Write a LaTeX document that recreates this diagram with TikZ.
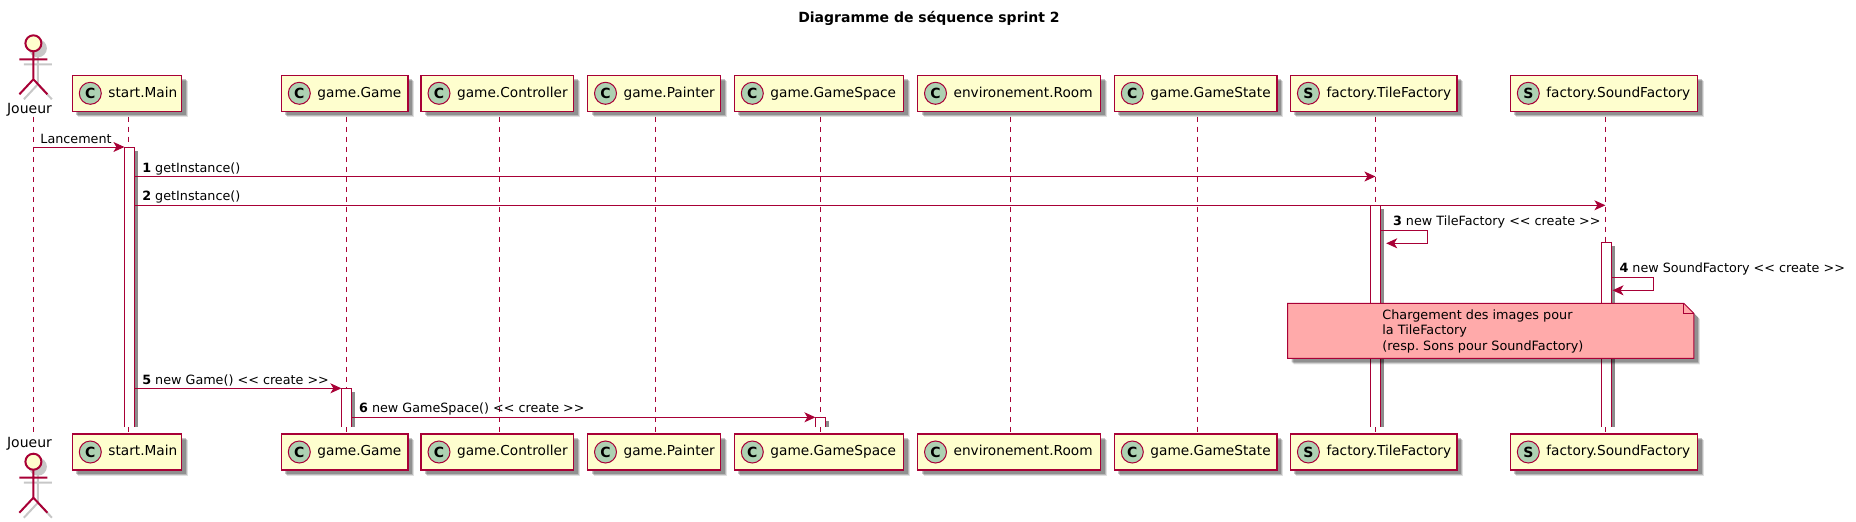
\documentclass[tikz,border=0pt]{standalone}
\usepackage{fontspec}
\setmainfont{DejaVu Sans}
\usetikzlibrary{positioning,arrows.meta,shadows}

\definecolor{umlline}{HTML}{A80036}
\definecolor{umlbox}{HTML}{FEFECE}
\definecolor{umlspot}{HTML}{ADD1B2}
\definecolor{umlnote}{HTML}{FFAAAA}

\begin{document}
\begin{tikzpicture}[
    x=1pt, y=-1pt,
    softshadow/.style={
        drop shadow={shadow xshift=6pt, shadow yshift=-6pt, fill=black, opacity=.12},
        drop shadow={shadow xshift=5pt, shadow yshift=-5pt, fill=black, opacity=.18},
        drop shadow={shadow xshift=4pt, shadow yshift=-4pt, fill=black, opacity=.22}
    },
    classbox/.style={
        draw=umlline,
        line width=1.5pt,
        fill=umlbox,
        softshadow,
        outer sep=0pt,
        inner xsep=7.5pt,
        inner ysep=0pt,
        minimum height=36pt,
        text width=#1,
        text height=10.5pt,
        text depth=3pt,
        font=\fontsize{13.7}{16}\selectfont,
        execute at begin node=\hspace{28.6pt}\hbox to 0pt\bgroup,
        execute at end node=\hss\egroup
    },
    spot/.style={
        circle,
        draw=umlline,
        line width=1pt,
        fill=umlspot,
        minimum size=22pt,
        inner sep=0pt,
        font=\fontsize{14}{16}\selectfont\bfseries
    },
    lifeline/.style={umlline, line width=1pt, dash pattern=on 5pt off 5pt},
    barbox/.style={fill=white, minimum width=10.2pt, inner sep=0pt, outer sep=0pt},
    msg/.style={umlline, line width=1pt, -{Stealth[length=11pt, width=10pt, inset=3pt]}},
    msglabel/.style={anchor=base west, inner sep=0pt, text=black, font=\fontsize{12.75}{15}\selectfont},
    actorlabel/.style={anchor=base, inner sep=0pt, font=\fontsize{14}{16}\selectfont},
    actor/.pic={
        \draw[black!22, line width=2pt, shift={(4.5,5)}]
            (-14,16) -- (14,16) (0,8) -- (0,36) (-14,51) -- (0,36) -- (14,51);
        \fill[black!22] (4.5,5) circle[radius=9];
        \draw[umlline, line width=2pt, fill=umlbox] (0,0) circle[radius=8];
        \draw[umlline, line width=2pt]
            (-14,16) -- (14,16) (0,8) -- (0,36) (-14,51) -- (0,36) -- (14,51);
    }
]

\useasboundingbox (0,0) rectangle (1856,522);

\node[anchor=base, inner sep=0pt, font=\fontsize{14}{16}\selectfont\bfseries] (title) at (929,22.7)
    {Diagramme de séquence sprint 2};

% participants, top row
\node[actorlabel] (joueur) at (29.5,113.3) {Joueur};
\node[classbox=94.4pt, anchor=north west] (main) at (72.3,75.3) {start.Main};
\node[classbox=111.7pt, right=99.6pt of main] (game) {game.Game};
\node[classbox=137.6pt, right=13pt of game] (controller) {game.Controller};
\node[classbox=118.2pt, right=13.9pt of controller] (painter) {game.Painter};
\node[classbox=154.3pt, right=13.6pt of painter] (gamespace) {game.GameSpace};
\node[classbox=168.2pt, right=13.9pt of gamespace] (room) {environement.Room};
\node[classbox=147.5pt, right=13.6pt of room] (gamestate) {game.GameState};
\node[classbox=151.4pt, right=13.6pt of gamestate] (tile) {factory.TileFactory};
\node[classbox=172.2pt, right=53.5pt of tile] (sound) {factory.SoundFactory};

% participants, bottom row
\node[actorlabel] (joueurb) at (29.5,447.7) {Joueur};
\node[classbox=94.4pt, below=322.7pt of main] (mainb) {start.Main};
\node[classbox=111.7pt, below=322.7pt of game] (gameb) {game.Game};
\node[classbox=137.6pt, below=322.7pt of controller] (controllerb) {game.Controller};
\node[classbox=118.2pt, below=322.7pt of painter] (painterb) {game.Painter};
\node[classbox=154.3pt, below=322.7pt of gamespace] (gamespaceb) {game.GameSpace};
\node[classbox=168.2pt, below=322.7pt of room] (roomb) {environement.Room};
\node[classbox=147.5pt, below=322.7pt of gamestate] (gamestateb) {game.GameState};
\node[classbox=151.4pt, below=322.7pt of tile] (tileb) {factory.TileFactory};
\node[classbox=172.2pt, below=322.7pt of sound] (soundb) {factory.SoundFactory};

\pic at (33.4,43.3) {actor};
\pic at (33.4,461.7) {actor};

% class spots
\node[spot] (mainC) at ([xshift=18pt]main.west) {C};
\node[spot] (gameC) at ([xshift=18pt]game.west) {C};
\node[spot] (controllerC) at ([xshift=18pt]controller.west) {C};
\node[spot] (painterC) at ([xshift=18pt]painter.west) {C};
\node[spot] (gamespaceC) at ([xshift=18pt]gamespace.west) {C};
\node[spot] (roomC) at ([xshift=18pt]room.west) {C};
\node[spot] (gamestateC) at ([xshift=18pt]gamestate.west) {C};
\node[spot] (tileS) at ([xshift=18pt]tile.west) {S};
\node[spot] (soundS) at ([xshift=18pt]sound.west) {S};
\node[spot] (mainbC) at ([xshift=18pt]mainb.west) {C};
\node[spot] (gamebC) at ([xshift=18pt]gameb.west) {C};
\node[spot] (controllerbC) at ([xshift=18pt]controllerb.west) {C};
\node[spot] (painterbC) at ([xshift=18pt]painterb.west) {C};
\node[spot] (gamespacebC) at ([xshift=18pt]gamespaceb.west) {C};
\node[spot] (roombC) at ([xshift=18pt]roomb.west) {C};
\node[spot] (gamestatebC) at ([xshift=18pt]gamestateb.west) {C};
\node[spot] (tilebS) at ([xshift=18pt]tileb.west) {S};
\node[spot] (soundbS) at ([xshift=18pt]soundb.west) {S};

% lifelines
\coordinate (ljoueur) at (33.4,116.7);
\coordinate (lmain) at (128.3,116.7);
\coordinate (lgame) at (346.3,116.7);
\coordinate (lcontroller) at (499.3,116.7);
\coordinate (lpainter) at (655.4,116.7);
\coordinate (lgamespace) at (820.4,116.7);
\coordinate (lroom) at (1010.4,116.7);
\coordinate (lgamestate) at (1197.5,116.7);
\coordinate (ltile) at (1375.4,116.7);
\coordinate (lsound) at (1605.4,116.7);
\coordinate (lend) at (0,431.7);

\draw[lifeline] (ljoueur) -- (ljoueur |- lend);
\draw[lifeline] (lmain) -- (lmain |- lend);
\draw[lifeline] (lgame) -- (lgame |- lend);
\draw[lifeline] (lcontroller) -- (lcontroller |- lend);
\draw[lifeline] (lpainter) -- (lpainter |- lend);
\draw[lifeline] (lgamespace) -- (lgamespace |- lend);
\draw[lifeline] (lroom) -- (lroom |- lend);
\draw[lifeline] (lgamestate) -- (lgamestate |- lend);
\draw[lifeline] (ltile) -- (ltile |- lend);
\draw[lifeline] (lsound) -- (lsound |- lend);

% activation bars
\node[barbox, anchor=north, minimum height=280pt] (barmain) at (129.5,147) {};
\node[barbox, anchor=north, minimum height=221.7pt] (bartile) at (ltile |- 0,205.3) {};
\node[barbox, anchor=north, minimum height=184.7pt] (barsound) at (1606.6,242.3) {};
\node[barbox, anchor=north, minimum height=38.7pt] (bargame) at (346.5,388.3) {};
\node[barbox, anchor=north, minimum height=9.7pt] (barspace) at (820.5,417.3) {};

\foreach \b in {barmain,bartile,barsound,bargame,barspace} {
    \fill[black!45] ([xshift=.5pt,yshift=-4pt]\b.north east) rectangle ([xshift=3.5pt]\b.south east);
    \draw[umlline, line width=1pt] (\b.south west) |- (\b.north east) -- (\b.south east);
}

% messages
\coordinate (m0) at (0,147);
\coordinate (m1) at (0,176.5);
\coordinate (m2) at (0,205.3);
\coordinate (m3a) at (1427.4,230.7);
\coordinate (m3b) at (1427.4,243.3);
\coordinate (m4a) at (1653.4,277.7);
\coordinate (m4b) at (1653.4,290.3);
\coordinate (m5) at (0,388.3);
\coordinate (m6) at (0,417.3);

\draw[msg] (ljoueur |- m0) -- node[msglabel, pos=0, xshift=6.5pt, yshift=4pt] (lbl0) {Lancement} (barmain.west |- m0);
\draw[msg] (barmain.east |- m1) -- node[msglabel, pos=0, xshift=7.2pt, yshift=4.5pt] (lbl1) {\textbf{1} getInstance()} (ltile |- m1);
\draw[msg] (barmain.east |- m2) -- node[msglabel, pos=0, xshift=7.2pt, yshift=4.5pt] (lbl2) {\textbf{2} getInstance()} (lsound |- m2);
\draw[msg] (bartile.east |- m3a) -- node[msglabel, pos=0, xshift=12pt, yshift=5.5pt] (lbl3) {\textbf{3} new TileFactory <{}< create >{}>} (m3a) -- (m3b) -- ([xshift=5.7pt]bartile.east |- m3b);
\draw[msg] (barsound.east |- m4a) -- node[msglabel, pos=0, xshift=7.3pt, yshift=5.5pt] (lbl4) {\textbf{4} new SoundFactory <{}< create >{}>} (m4a) -- (m4b) -- ([xshift=.8pt]barsound.east |- m4b);
\draw[msg] (barmain.east |- m5) -- node[msglabel, pos=0, xshift=7.2pt, yshift=4.3pt] (lbl5) {\textbf{5} new Game() <{}< create >{}>} (bargame.west |- m5);
\draw[msg] (bargame.east |- m6) -- node[msglabel, pos=0, xshift=7pt, yshift=4.6pt] (lbl6) {\textbf{6} new GameSpace() <{}< create >{}>} (barspace.west |- m6);

% note
\node[anchor=north west, minimum width=406.3pt, minimum height=55pt, inner sep=0pt, outer sep=0pt] (note) at (1287.5,303.3) {};
\draw[umlline, line width=1pt, fill=umlnote, softshadow]
    (note.north west) -- ([xshift=-10pt]note.north east) -- ([yshift=-10pt]note.north east)
    -- (note.south east) -- (note.south west) -- cycle;
\draw[umlline, line width=1pt] ([xshift=-10pt]note.north east) |- ([yshift=-10pt]note.north east);
\node[anchor=north west, inner sep=0pt, align=left, font=\fontsize{12.8}{15.4}\selectfont\frenchspacing] (notetext) at (1382.2,309.5)
    {Chargement des images pour\\la TileFactory\\(resp. Sons pour SoundFactory)};

\end{tikzpicture}
\end{document}
